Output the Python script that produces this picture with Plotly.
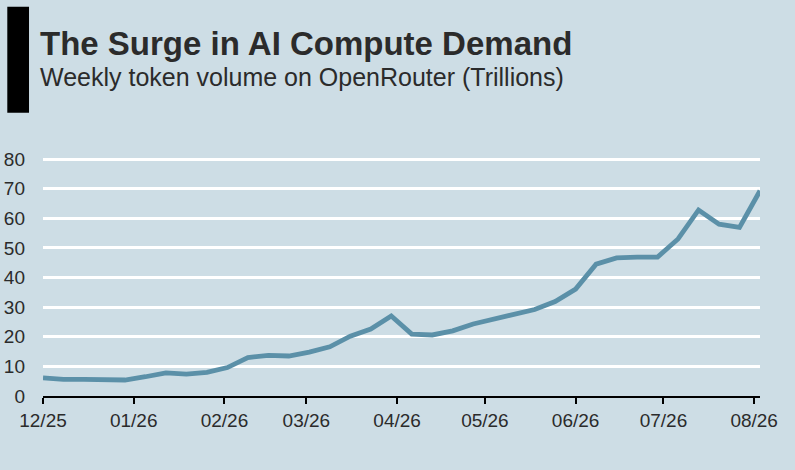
import pandas as pd
import plotly.graph_objects as go

# ------------------------------------------------------------------
#    Data: weekly token volume (trillions)
# ------------------------------------------------------------------
start_date = "2025-12-01"
n_weeks = 36
tokens_tn = [
    6.1, 5.6, 5.6, 5.6, 5.4, 6.5, 7.8, 7.4, 8.0, 9.6,
    13.0, 13.7, 13.5, 14.8, 16.6, 20.2, 22.6, 27.0, 20.9, 20.6,
    22.0, 24.3, 25.9, 27.3, 29.2, 31.9, 36.1, 44.5, 46.6, 46.9,
    46.9, 53.0, 62.8, 58.0, 56.9, 69.3,
]
weeks = pd.date_range(start_date, periods=n_weeks, freq="7D")

title_text = "The Surge in AI Compute Demand"
subtitle_text = "Weekly token volume on OpenRouter (Trillions)"

BG = "#cddde5"
LINE = "#5b90a8"
TEXT = "#2b2b2b"
FONT = "Liberation Sans, Arial, sans-serif"

# ------------------------------------------------------------------
#    Figure
# ------------------------------------------------------------------
fig = go.Figure(
    go.Scatter(
        x=weeks, y=tokens_tn, mode="lines",
        line=dict(color=LINE, width=4.8),
        hoverinfo="skip",
    )
)

fig.update_layout(
    width=795, height=470,
    paper_bgcolor=BG, plot_bgcolor=BG,
    margin=dict(l=43, r=35, t=158, b=74),
    showlegend=False,
    font=dict(family=FONT, color=TEXT, size=19),
)

fig.update_xaxes(
    range=[weeks[0], weeks[-1]],
    tick0=start_date, dtick="M1", tickformat="%m/%y",
    showgrid=False, zeroline=False,
    showline=True, linecolor="black", linewidth=1.5,
    ticks="outside", ticklen=6, tickcolor="black", tickwidth=1.5,
    tickfont=dict(size=19, color=TEXT),
    automargin=False,
)
# a little headroom above 80 so its gridline is drawn
fig.update_yaxes(
    range=[0, 80.34], dtick=10,
    showgrid=True, gridcolor="white", gridwidth=3,
    zeroline=False, showline=False, ticks="",
    ticklabelstandoff=17,
    tickfont=dict(size=19, color=TEXT),
    automargin=False,
)

# black accent bar left of the heading
fig.add_shape(
    type="rect", xref="paper", yref="paper",
    x0=-0.0498, x1=-0.0195, y0=1.190, y1=1.636,
    fillcolor="black", line=dict(width=0),
)

fig.add_annotation(
    text=f"<b>{title_text}</b>", xref="paper", yref="paper",
    x=-0.007, y=1.481, xanchor="left", yanchor="middle",
    showarrow=False, font=dict(size=33, color=TEXT),
)
fig.add_annotation(
    text=subtitle_text, xref="paper", yref="paper",
    x=-0.007, y=1.339, xanchor="left", yanchor="middle",
    showarrow=False, font=dict(size=25, color=TEXT),
)

# drop the default page margin so the chart fills the window
fig.write_html(
    "out.html",
    config={"displayModeBar": False},
    post_script="document.body.style.margin='0';",
)
